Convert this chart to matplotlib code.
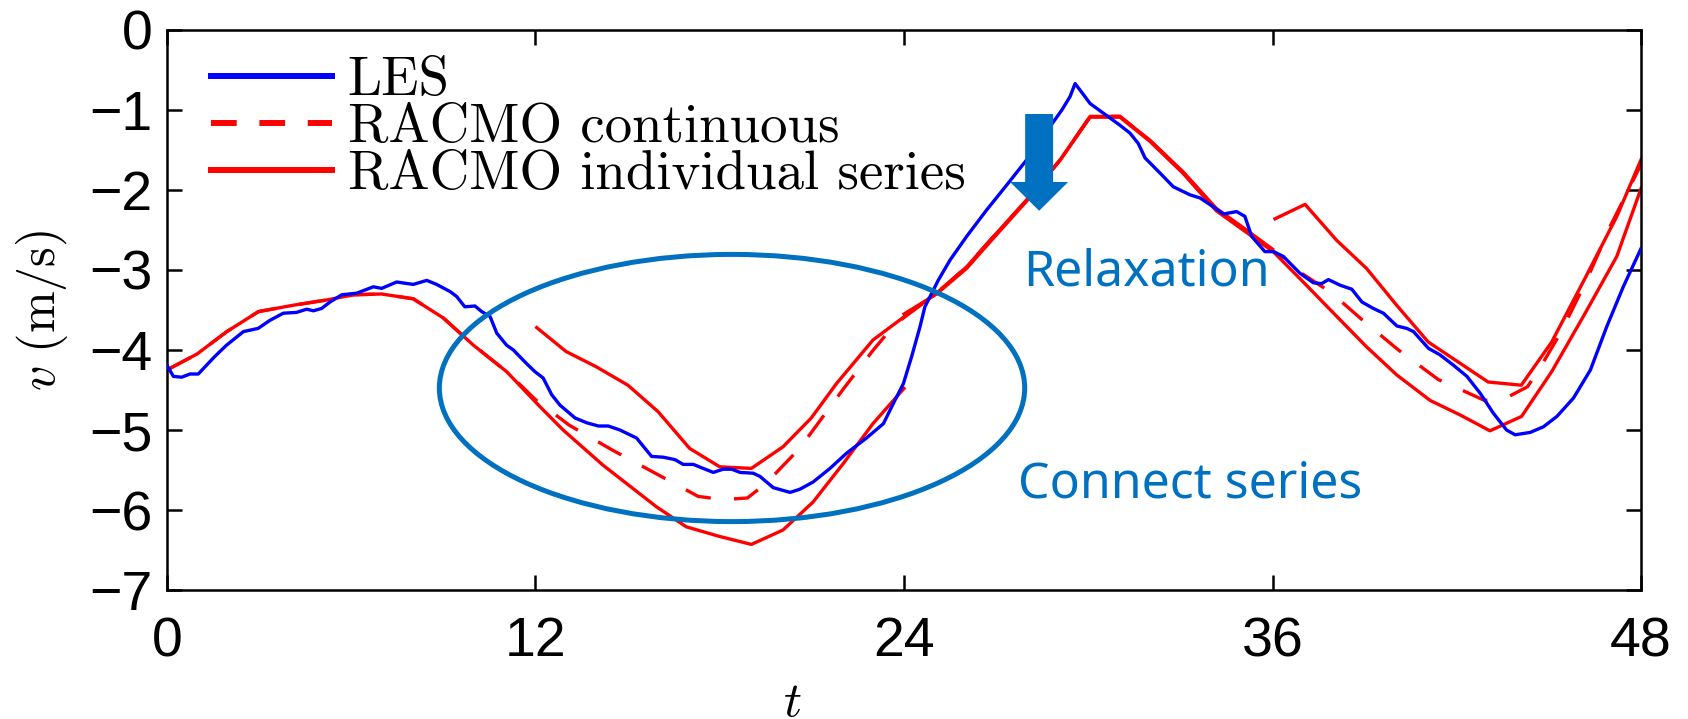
import matplotlib
matplotlib.use("Agg")
import matplotlib.pyplot as plt
from matplotlib.lines import Line2D
from matplotlib.patches import Ellipse, FancyArrow

plt.rcParams.update({
    "font.family": "Liberation Sans",
    "mathtext.fontset": "cm",
    "axes.linewidth": 1.8,
})

# ── data ─────────────────────────────────────────────────────────────
les_t = [0, 0.21, 0.48, 0.75, 1.02, 1.29, 1.56, 1.94, 2.49, 2.97, 3.35, 3.79, 4.22, 4.55,
         4.77, 5.04, 5.31, 5.69, 6.18, 6.45, 6.72, 6.99, 7.48, 8.02, 8.46, 8.78, 9.22, 9.43,
         9.70, 10.03, 10.25, 10.52, 10.74, 11.06, 11.28, 11.71, 11.98, 12.25, 12.53, 12.80,
         13.29, 13.67, 14.05, 14.37, 14.75, 15.29, 15.78, 16.16, 16.54, 16.81, 17.14, 17.46,
         17.79, 18.11, 18.39, 18.66, 19.09, 19.31, 19.74, 20.29, 20.61, 21.04, 21.59, 22.13,
         22.78, 23.33, 23.65, 23.98, 24.25, 24.52, 24.68, 25.12, 25.50, 26.04, 26.69, 27.34,
         27.99, 28.64, 29.14, 29.41, 29.57, 29.73, 30.06, 30.49, 31.03, 31.36, 31.63, 31.85,
         32.34, 32.77, 33.31, 33.64, 34.07, 34.40, 34.83, 35.10, 35.32, 35.75, 36.03, 36.35,
         36.89, 37.33, 37.60, 37.82, 38.20, 38.58, 38.91, 39.28, 39.61, 40.05, 40.37, 40.59,
         41.08, 41.45, 41.89, 42.33, 42.76, 43.19, 43.62, 43.90, 44.39, 44.82, 45.26, 45.80,
         46.35, 46.88, 47.42, 48.0]
les_v = [-4.19, -4.33, -4.34, -4.30, -4.30, -4.19, -4.08, -3.94, -3.77, -3.73, -3.63, -3.54,
         -3.53, -3.49, -3.51, -3.48, -3.40, -3.31, -3.29, -3.25, -3.21, -3.23, -3.15, -3.18,
         -3.13, -3.18, -3.27, -3.33, -3.46, -3.45, -3.52, -3.58, -3.79, -3.94, -4.00, -4.17,
         -4.27, -4.35, -4.56, -4.69, -4.85, -4.91, -4.95, -4.95, -5.00, -5.10, -5.33, -5.34,
         -5.37, -5.43, -5.43, -5.48, -5.53, -5.49, -5.49, -5.53, -5.54, -5.58, -5.72, -5.78,
         -5.74, -5.65, -5.48, -5.29, -5.10, -4.92, -4.67, -4.42, -4.08, -3.71, -3.46, -3.125,
         -2.875, -2.58, -2.25, -1.94, -1.625, -1.27, -1.0, -0.83, -0.67, -0.75, -0.92, -1.04,
         -1.19, -1.29, -1.42, -1.60, -1.79, -1.96, -2.06, -2.10, -2.21, -2.30, -2.27, -2.33,
         -2.58, -2.77, -2.77, -2.83, -3.04, -3.16, -3.17, -3.12, -3.19, -3.24, -3.40, -3.48,
         -3.54, -3.70, -3.73, -3.77, -3.98, -4.06, -4.19, -4.33, -4.54, -4.79, -5.0, -5.06,
         -5.03, -4.96, -4.83, -4.60, -4.25, -3.71, -3.21, -2.73]

cont_t = [0, 0.98, 1.95, 2.98, 4.12, 5.2, 6.07, 6.99, 8.02, 9.0, 9.98, 11.06, 12.0, 13.1,
          14.5, 15.9, 17.3, 18.1, 18.9, 19.5, 20.6, 22.0, 23.0, 23.7, 25.06, 26.04, 26.80,
          27.99, 29.08, 30.06, 31.03, 32.0, 33.08, 34.17, 35.15, 36.0, 36.7, 37.9, 39.0,
          40.1, 41.4, 42.1, 42.9, 43.6, 44.3, 44.7, 45.4, 46.2, 47.0, 48.0]
cont_v = [-4.25, -4.05, -3.77, -3.52, -3.44, -3.375, -3.31, -3.30, -3.36, -3.60, -3.94,
          -4.27, -4.62, -4.94, -5.25, -5.54, -5.83, -5.87, -5.85, -5.67, -5.23, -4.50, -4.0,
          -3.68, -3.29, -2.96, -2.63, -2.13, -1.625, -1.08, -1.08, -1.38, -1.78, -2.24,
          -2.52, -2.76, -2.98, -3.28, -3.65, -4.0, -4.37, -4.49, -4.63, -4.60, -4.46, -4.23,
          -3.77, -3.15, -2.45, -1.68]

s00_t = [0, 0.98, 1.95, 2.98, 4.12, 5.2, 6.07, 6.99, 8.02, 9.0, 9.98, 11.06, 12.15, 12.9,
         14.2, 15.94, 16.91, 17.99, 19.03, 20.06, 21.04, 22.02, 22.99, 24.0]
s00_v = [-4.25, -4.05, -3.77, -3.52, -3.44, -3.375, -3.31, -3.30, -3.36, -3.60, -3.94, -4.27,
         -4.71, -5.0, -5.44, -5.96, -6.21, -6.33, -6.43, -6.25, -5.90, -5.42, -4.92, -4.48]

s12_t = [12.04, 13.0, 13.98, 15.01, 15.99, 17.02, 18.0, 19.03, 20.06, 20.98, 21.8, 22.99,
         24.3, 25.06, 26.04, 26.80, 27.99, 29.08, 30.06, 31.03, 32.0, 33.08, 34.17, 35.15, 36.0]
s12_v = [-3.72, -4.02, -4.21, -4.44, -4.77, -5.23, -5.46, -5.48, -5.21, -4.85, -4.42, -3.875,
         -3.50, -3.29, -2.96, -2.63, -2.125, -1.625, -1.08, -1.08, -1.375, -1.77, -2.23, -2.5,
         -2.74]

s24_t = [24.0, 25.06, 26.04, 26.80, 27.99, 29.08, 30.06, 31.03, 32.0, 33.08, 34.17, 35.15,
         36.02, 37.0, 38.09, 39.06, 40.04, 41.13, 42.1, 43.08, 44.11, 45.09, 46.18, 47.21, 48.0]
s24_v = [-3.55, -3.30, -2.98, -2.65, -2.14, -1.63, -1.09, -1.09, -1.39, -1.79, -2.26, -2.53,
         -2.77, -3.15, -3.58, -3.96, -4.31, -4.63, -4.81, -5.01, -4.83, -4.27, -3.54, -2.83,
         -1.98]

s36_t = [36.08, 37.06, 38.09, 39.06, 40.04, 41.07, 43.02, 44.1, 45.09, 46.18, 47.21, 48.0]
s36_v = [-2.36, -2.18, -2.63, -2.98, -3.44, -3.90, -4.40, -4.44, -3.90, -3.10, -2.33, -1.62]

x_ticks = [0, 12, 24, 36, 48]
y_ticks = [-7, -6, -5, -4, -3, -2, -1, 0]
labels = ["LES", "RACMO continuous", "RACMO individual series"]

ANNOT = "#0070C0"

fig = plt.figure(figsize=(16.88, 7.19), dpi=100)
ax = fig.add_axes([0.0989, 0.1794, 0.8733, 0.7789])

ax.plot(les_t, les_v, color="blue", lw=2.4, zorder=3)
ax.plot(cont_t, cont_v, color="red", lw=2.4, dashes=(8, 7), zorder=2)
for t, v in ((s00_t, s00_v), (s12_t, s12_v), (s24_t, s24_v), (s36_t, s36_v)):
    ax.plot(t, v, color="red", lw=2.4, zorder=2)

ax.set_xlim(0, 48)
ax.set_ylim(-7, 0)
ax.set_xticks(x_ticks)
ax.set_yticks(y_ticks)
ax.tick_params(direction="in", length=11, width=1.8, labelsize=40, top=True, right=True)
ax.tick_params(axis="x", pad=19)
ax.tick_params(axis="y", pad=10.5)

ax.set_ylabel(r"$v\ \mathrm{(m/s)}$", fontsize=36)
ax.yaxis.set_label_coords(-0.066, 0.5)
ax.set_xlabel(r"$t$", fontsize=36)
ax.xaxis.set_label_coords(0.424, -0.16)

handles = [Line2D([], [], color="blue", lw=4.3),
           Line2D([], [], color="red", lw=4.3, ls=(0, (4.3, 3.8))),
           Line2D([], [], color="red", lw=4.3)]
ax.legend(handles, labels, loc="upper left", bbox_to_anchor=(0.0299, 0.952),
          frameon=False, prop={"family": "cmr10", "size": 39.5},
          handlelength=2.2, handletextpad=0.29, labelspacing=-0.05,
          borderpad=0, borderaxespad=0)

# annotations (added on top of the plot)
ax.add_patch(Ellipse((18.4, -4.475), 19.06, 3.34, fill=False, ec=ANNOT, lw=3.6, zorder=5))
ax.add_patch(FancyArrow(28.4, -1.05, 0, -1.21, width=0.91, head_width=1.89,
                        head_length=0.36, length_includes_head=True,
                        color=ANNOT, lw=0, zorder=6))
ax.text(27.87, -3.19, "Relaxation", color=ANNOT, fontsize=36, family="Noto Sans",
        ha="left", va="baseline", zorder=6)
ax.text(27.71, -5.84, "Connect series", color=ANNOT, fontsize=36, family="Noto Sans",
        ha="left", va="baseline", zorder=6)

fig.savefig("out.png", dpi=100)
